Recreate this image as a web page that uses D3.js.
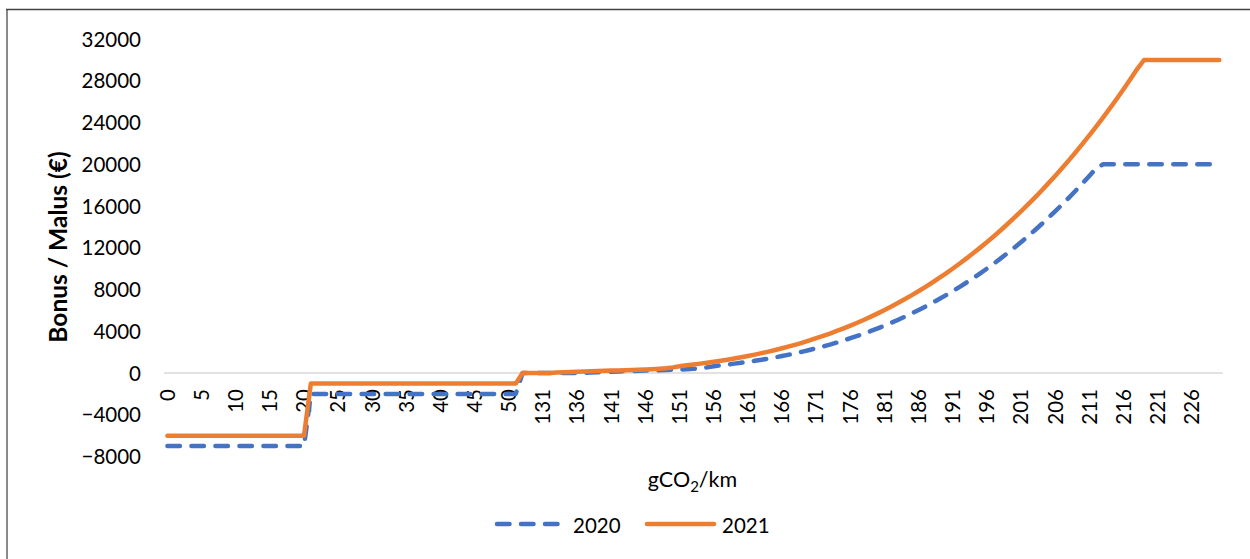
<!DOCTYPE html>
<html>
<head>
<meta charset="utf-8">
<script src="https://cdn.jsdelivr.net/npm/d3@7/dist/d3.min.js"></script>
<style>
  html, body { margin: 0; padding: 0; background: #fff; }
  svg { display: block; font-family: Lato, "Open Sans", sans-serif; }
</style>
</head>
<body>
<svg id="chart" width="1250" height="559"></svg>
<script>
// ---- data ----
const categories = [
  0,1,2,3,4,5,6,7,8,9,10,11,12,13,14,15,16,17,18,19,20,
  21,22,23,24,25,26,27,28,29,30,31,32,33,34,35,36,37,38,39,40,41,42,43,44,45,46,47,48,49,50,51,
  128,129,130,131,132,133,134,135,136,137,138,139,140,141,142,143,144,145,146,147,148,149,150,
  151,152,153,154,155,156,157,158,159,160,161,162,163,164,165,166,167,168,169,170,171,172,173,174,175,
  176,177,178,179,180,181,182,183,184,185,186,187,188,189,190,191,192,193,194,195,196,197,198,199,200,
  201,202,203,204,205,206,207,208,209,210,211,212,213,214,215,216,217,218,219,220,221,222,223,224,225,
  226,227,228,229,230
];
const series2020 = [
  -7000,-7000,-7000,-7000,-7000,-7000,-7000,-7000,-7000,-7000,-7000,-7000,-7000,-7000,-7000,-7000,-7000,-7000,-7000,-7000,-7000,
  -2000,-2000,-2000,-2000,-2000,-2000,-2000,-2000,-2000,-2000,-2000,-2000,-2000,-2000,-2000,-2000,-2000,-2000,-2000,-2000,-2000,-2000,-2000,-2000,-2000,-2000,-2000,-2000,-2000,-2000,-2000,
  0,0,0,0,0,0,0,0,0,0,
  50,75,100,125,150,170,190,210,230,240,260,280,310,330,360,400,450,540,650,740,818,898,983,1074,1172,
  1276,1386,1504,1629,1761,1901,2049,2205,2370,2544,2726,2918,3119,3331,3552,3784,4026,4279,4543,4818,
  5105,5404,5715,6039,6375,6724,7086,7462,7851,8254,8671,9103,9550,10011,10488,10980,11488,12012,12552,13109,
  13682,14273,14881,15506,16149,16810,17490,18188,18905,19641,
  20000,20000,20000,20000,20000,20000,20000,20000,20000,20000,20000,20000,20000,20000,20000,20000,20000,20000
];
const series2021 = [
  -6000,-6000,-6000,-6000,-6000,-6000,-6000,-6000,-6000,-6000,-6000,-6000,-6000,-6000,-6000,-6000,-6000,-6000,-6000,-6000,-6000,
  -1000,-1000,-1000,-1000,-1000,-1000,-1000,-1000,-1000,-1000,-1000,-1000,-1000,-1000,-1000,-1000,-1000,-1000,-1000,-1000,-1000,-1000,-1000,-1000,-1000,-1000,-1000,-1000,-1000,-1000,-1000,
  0,0,0,0,0,
  50,75,100,125,150,170,190,210,230,240,260,280,310,330,360,400,450,540,650,740,818,898,983,1074,1172,
  1276,1386,1504,1629,1761,1901,2049,2205,2370,2544,2726,2918,3119,3331,3552,3784,4026,4279,4543,4818,
  5105,5404,5715,6039,6375,6724,7086,7462,7851,8254,8671,9103,9550,10011,10488,10980,11488,12012,12552,13109,
  13682,14273,14881,15506,16149,16810,17490,18188,18905,19641,
  20397,21173,21970,22788,23627,24489,25372,26279,27208,28161,29138,
  30000,30000,30000,30000,30000,30000,30000,30000,30000,30000,30000,30000
];
const yTicks = [-8000,-4000,0,4000,8000,12000,16000,20000,24000,28000,32000];
const seriesNames = ["2020","2021"];
const seriesColors = ["#4472C4","#ED7D31"];

// ---- drawing ----
const svg = d3.select("#chart");
const font = 20.5;

// chart area border (left + top visible)
svg.append("line").attr("x1",7).attr("x2",7).attr("y1",9.5).attr("y2",559)
  .attr("stroke","#8a8a8a").attr("stroke-width",2);
svg.append("line").attr("x1",6).attr("x2",1250).attr("y1",9.5).attr("y2",9.5)
  .attr("stroke","#404040").attr("stroke-width",1.5);

const x = d3.scaleBand().domain(d3.range(categories.length)).range([164, 1222.7]).paddingInner(0).paddingOuter(0);
const xc = i => x(i) + x.bandwidth()/2;
const y = d3.scaleLinear().domain([-8000, 32000]).range([456.5, 39]);

// zero axis line
svg.append("line").attr("x1",164).attr("x2",1222.7).attr("y1",y(0)).attr("y2",y(0))
  .attr("stroke","#d9d9d9").attr("stroke-width",1.5);

// y tick labels
const yAxis = d3.axisLeft(y).tickValues(yTicks).tickSize(0).tickPadding(0).tickFormat(d3.format("d"));
const gy = svg.append("g").attr("transform","translate(141,0)").call(yAxis);
gy.select(".domain").remove();
gy.selectAll("text").attr("font-size",font).attr("font-family","Lato").attr("fill","#000")
  .attr("dy","0.35em").attr("x",0);

// x tick labels (every 5th category)
const xTickIdx = d3.range(0, categories.length, 5);
svg.append("g").selectAll("text").data(xTickIdx).join("text")
  .attr("transform", i => `translate(${xc(i)},389) rotate(-90)`)
  .attr("text-anchor","end").attr("dy","0.35em")
  .attr("font-size",font).attr("fill","#000")
  .text(i => categories[i]);

// lines
const line = d3.line().x((d,i) => xc(i)).y(d => y(d));
svg.append("path").datum(series2020).attr("d", line)
  .attr("fill","none").attr("stroke",seriesColors[0]).attr("stroke-width",4.5)
  .attr("stroke-dasharray","12.5,11.5").attr("stroke-linecap","round").attr("stroke-linejoin","round");
svg.append("path").datum(series2021).attr("d", line)
  .attr("fill","none").attr("stroke",seriesColors[1]).attr("stroke-width",4.5)
  .attr("stroke-linecap","round").attr("stroke-linejoin","round");

// y axis title
svg.append("text").attr("transform","translate(67,247) rotate(-90)")
  .attr("text-anchor","middle").attr("font-weight","bold").attr("font-size",24.5).attr("fill","#000")
  .text("Bonus / Malus (€)");

// x axis title
const xt = svg.append("text").attr("x",692.5).attr("y",486.5).attr("text-anchor","middle")
  .attr("font-size",21.5).attr("fill","#000");
xt.append("tspan").text("gCO");
xt.append("tspan").attr("font-size",15).attr("dy",5).text("2");
xt.append("tspan").attr("dy",-5).text("/km");

// legend
const legend = [
  {x1:497, x2:559, tx:573},
  {x1:647, x2:714, tx:722}
];
legend.forEach((L, k) => {
  svg.append("line").attr("x1",L.x1).attr("x2",L.x2).attr("y1",524).attr("y2",524)
    .attr("stroke",seriesColors[k]).attr("stroke-width",4.5).attr("stroke-linecap","round")
    .attr("stroke-dasharray", k === 0 ? "12.5,11.5" : null);
  svg.append("text").attr("x",L.tx).attr("y",532.5).attr("font-size",font).attr("fill","#000")
    .text(seriesNames[k]);
});
</script>
</body>
</html>
